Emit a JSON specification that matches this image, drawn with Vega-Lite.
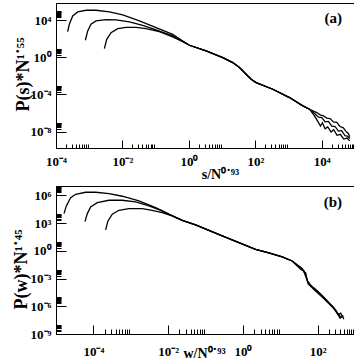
{
  "$schema": "https://vega.github.io/schema/vega-lite/v6.json",
  "background": "white",
  "padding": {"left": 11, "top": 2, "right": 1, "bottom": 5},
  "bounds": "flush",
  "spacing": 38,
  "config": {
    "view": {"stroke": "#000", "strokeWidth": 1},
    "axis": {
      "grid": false, "domainColor": "#000", "tickColor": "#000", "labelColor": "#000", "titleColor": "#000",
      "labelFont": "Liberation Serif", "labelFontWeight": "bold", "labelFontSize": 13,
      "titleFont": "Liberation Serif", "titleFontWeight": "bold",
      "labelOverlap": false, "labelFlush": false, "tickWidth": 1
    },
    "title": {"font": "Liberation Serif", "fontWeight": "bold", "fontSize": 15, "color": "#000"}
  },
  "vconcat": [
    {
      "width": 299, "height": 145,
      "title": {"text": "(a)", "anchor": "end", "frame": "group", "orient": "top", "offset": 0, "baseline": "alphabetic", "dy": 35, "dx": -13},
      "data": {"values": [
        {"n":1,"x":2.24e-4,"y":601},{"n":1,"x":2.52e-4,"y":3707},{"n":1,"x":3.18e-4,"y":29300},{"n":1,"x":4.5e-4,"y":79100},{"n":1,"x":8.02e-4,"y":120000},{"n":1,"x":1.6e-3,"y":120000},{"n":1,"x":4.04e-3,"y":79100},{"n":1,"x":1.02e-2,"y":37600},{"n":1,"x":3.24e-2,"y":8470},{"n":1,"x":0.103,"y":1620},{"n":1,"x":0.327,"y":310},{"n":1,"x":0.653,"y":58.9},
        {"n":1,"x":1.038,"y":20.2},{"n":1,"x":3.296,"y":4.955},{"n":1,"x":10.47,"y":0.948},{"n":1,"x":20.94,"y":0.274},{"n":1,"x":33.27,"y":0.0793},{"n":1,"x":52.84,"y":0.0152},{"n":1,"x":74.65,"y":0.00439},{"n":1,"x":105.7,"y":0.00192},{"n":1,"x":335.7,"y":0.000367},{"n":1,"x":1067,"y":4.65e-5},{"n":1,"x":2692,"y":5.87e-6},{"n":1,"x":4276,"y":2.57e-6},
        {"n":1,"x":7079,"y":1.122e-6},{"n":1,"x":8913,"y":6.31e-7},{"n":1,"x":11220,"y":5.01e-7},{"n":1,"x":14130,"y":2.82e-7},{"n":1,"x":17780,"y":2.51e-7},{"n":1,"x":22390,"y":1.122e-7},{"n":1,"x":28180,"y":1e-7},{"n":1,"x":35480,"y":3.55e-8},{"n":1,"x":44670,"y":2.51e-8},{"n":1,"x":52480,"y":1.122e-8},{"n":1,"x":63100,"y":6.31e-9},{"n":1,"x":69180,"y":2.82e-9},
        {"n":2,"x":7.66e-4,"y":70},{"n":2,"x":9.0e-4,"y":710},{"n":2,"x":1.13e-3,"y":3707},{"n":2,"x":1.6e-3,"y":8470},{"n":2,"x":3.21e-3,"y":11800},{"n":2,"x":6.41e-3,"y":10900},{"n":2,"x":1.62e-2,"y":6610},{"n":2,"x":4.07e-2,"y":2890},{"n":2,"x":0.103,"y":908},{"n":2,"x":0.327,"y":205},{"n":2,"x":0.653,"y":53.7},
        {"n":2,"x":1.038,"y":20.2},{"n":2,"x":3.296,"y":4.955},{"n":2,"x":10.47,"y":0.948},{"n":2,"x":20.94,"y":0.274},{"n":2,"x":33.27,"y":0.0793},{"n":2,"x":52.84,"y":0.0152},{"n":2,"x":74.65,"y":0.00439},{"n":2,"x":105.7,"y":0.00192},{"n":2,"x":335.7,"y":0.000367},{"n":2,"x":1067,"y":4.65e-5},{"n":2,"x":2692,"y":5.87e-6},{"n":2,"x":4276,"y":2.57e-6},
        {"n":2,"x":6310,"y":7.94e-7},{"n":2,"x":7943,"y":3.55e-7},{"n":2,"x":10000,"y":3.16e-7},{"n":2,"x":12590,"y":1.122e-7},{"n":2,"x":15850,"y":1.259e-7},{"n":2,"x":19950,"y":3.98e-8},{"n":2,"x":25120,"y":3.55e-8},{"n":2,"x":31620,"y":1.122e-8},{"n":2,"x":39810,"y":1.259e-8},{"n":2,"x":50120,"y":3.55e-9},{"n":2,"x":60260,"y":3.16e-9},{"n":2,"x":69180,"y":1.78e-9},
        {"n":3,"x":2.86e-3,"y":8.85},{"n":3,"x":3.36e-3,"y":89.7},{"n":3,"x":4.54e-3,"y":469},{"n":3,"x":7.19e-3,"y":1265},{"n":3,"x":1.28e-2,"y":1762},{"n":3,"x":2.57e-2,"y":1762},{"n":3,"x":5.14e-2,"y":1265},{"n":3,"x":0.129,"y":601},{"n":3,"x":0.327,"y":160},{"n":3,"x":0.653,"y":50.2},
        {"n":3,"x":1.038,"y":20.2},{"n":3,"x":3.296,"y":4.955},{"n":3,"x":10.47,"y":0.948},{"n":3,"x":20.94,"y":0.274},{"n":3,"x":33.27,"y":0.0793},{"n":3,"x":52.84,"y":0.0152},{"n":3,"x":74.65,"y":0.00439},{"n":3,"x":105.7,"y":0.00192},{"n":3,"x":335.7,"y":0.000367},{"n":3,"x":1067,"y":4.65e-5},{"n":3,"x":2692,"y":5.87e-6},{"n":3,"x":4276,"y":2.57e-6},
        {"n":3,"x":6026,"y":5.01e-7},{"n":3,"x":7586,"y":1.259e-7},{"n":3,"x":9120,"y":3.98e-8},{"n":3,"x":10470,"y":8.91e-8},{"n":3,"x":12590,"y":2.0e-8},{"n":3,"x":15140,"y":3.16e-8},{"n":3,"x":19050,"y":8.91e-9},{"n":3,"x":22910,"y":1.585e-8},{"n":3,"x":28840,"y":3.98e-9},{"n":3,"x":36310,"y":5.01e-9},{"n":3,"x":45710,"y":1.585e-9},{"n":3,"x":57540,"y":2.0e-9},{"n":3,"x":69180,"y":1e-9}
      ]},
      "mark": {"type": "line", "color": "#000", "strokeWidth": 1.3, "clip": true},
      "encoding": {
        "x": {"field": "x", "type": "quantitative",
          "scale": {"type": "log", "domain": [1e-4, 1e5], "nice": false},
          "axis": {
            "values": [0.0001,0.0002,0.0003,0.0004,0.0005,0.0006,0.0007,0.0008,0.0009,0.01,0.02,0.03,0.04,0.05,0.06,0.07,0.08,0.09,1,2,3,4,5,6,7,8,9,100,200,300,400,500,600,700,800,900,10000,20000,30000,40000,50000,60000,70000,80000,90000],
            "labelExpr": "abs(log(datum.value)/LN10 - round(log(datum.value)/LN10)) < 0.001 ? '10' + (datum.value < 1 ? '⁻' : '') + ['⁰','¹','²','³','⁴','⁵','⁶','⁷','⁸','⁹'][abs(round(log(datum.value)/LN10))] : ''",
            "tickSize": {"condition": {"test": "abs(log(datum.value)/LN10 - round(log(datum.value)/LN10)) < 0.001", "value": -8}, "value": -4},
            "labelPadding": 15,
            "title": "s/N⁰˙⁹³", "titleFontSize": 14, "titleX": 164, "titleY": 30, "titleBaseline": "alphabetic"
          }
        },
        "y": {"field": "y", "type": "quantitative",
          "scale": {"type": "log", "domain": [1.7e-10, 7.3e5], "nice": false},
          "axis": {
            "values": [1e-8,2e-8,3e-8,4e-8,5e-8,6e-8,7e-8,8e-8,9e-8,0.0001,0.0002,0.0003,0.0004,0.0005,0.0006,0.0007,0.0008,0.0009,1,2,3,4,5,6,7,8,9,10000,20000,30000,40000,50000,60000,70000,80000,90000],
            "labelExpr": "abs(log(datum.value)/LN10 - round(log(datum.value)/LN10)) < 0.001 ? '10' + (datum.value < 1 ? '⁻' : '') + ['⁰','¹','²','³','⁴','⁵','⁶','⁷','⁸','⁹'][abs(round(log(datum.value)/LN10))] : ''",
            "tickSize": {"condition": {"test": "abs(log(datum.value)/LN10 - round(log(datum.value)/LN10)) < 0.001", "value": -10}, "value": -5},
            "labelPadding": 15,
            "title": "P(s)*N¹˙⁵⁵", "titleFontSize": 18, "titleX": -33, "titleY": 71, "titleBaseline": "middle", "titleAngle": -90
          }
        },
        "detail": {"field": "n"}
      }
    },
    {
      "width": 299, "height": 148,
      "title": {"text": "(b)", "anchor": "end", "frame": "group", "orient": "top", "offset": 0, "baseline": "alphabetic", "dy": 42, "dx": -13},
      "data": {"values": [
        {"n":1,"x":1.637e-5,"y":10400},{"n":1,"x":1.888e-5,"y":70150},{"n":1,"x":2.466e-5,"y":558500},{"n":1,"x":3.357e-5,"y":1282000},{"n":1,"x":6.209e-5,"y":2113000},{"n":1,"x":1.151e-4,"y":2113000},{"n":1,"x":2.612e-4,"y":1514000},{"n":1,"x":5.943e-4,"y":779800},{"n":1,"x":1.656e-3,"y":243800},{"n":1,"x":4.624e-3,"y":46240},{"n":1,"x":1.05e-2,"y":9120},
        {"n":1,"x":0.02388,"y":1968},{"n":1,"x":0.0542,"y":615.2},{"n":1,"x":0.1233,"y":162.9},{"n":1,"x":0.2799,"y":39.72},{"n":1,"x":0.7816,"y":7.534},{"n":1,"x":2.183,"y":1.432},{"n":1,"x":4.955,"y":0.5741},{"n":1,"x":11.27,"y":0.2118},{"n":1,"x":20.84,"y":0.0782},
        {"n":1,"x":25.12,"y":0.0447},{"n":1,"x":31.41,"y":0.02249},{"n":1,"x":35.48,"y":0.01585},{"n":1,"x":39.81,"y":0.01},{"n":1,"x":42.76,"y":0.005483},{"n":1,"x":47.86,"y":0.00398},{"n":1,"x":52.48,"y":0.000631},{"n":1,"x":63.1,"y":0.0002},{"n":1,"x":89.1,"y":6.31e-5},{"n":1,"x":125.9,"y":1.78e-5},{"n":1,"x":199.5,"y":2.51e-6},{"n":1,"x":281.8,"y":5.62e-7},{"n":1,"x":354.8,"y":1.26e-7},{"n":1,"x":416.9,"y":1.78e-7},{"n":1,"x":457.1,"y":7.94e-8},
        {"n":2,"x":5.957e-5,"y":1413},{"n":2,"x":6.887e-5,"y":10400},{"n":2,"x":8.453e-5,"y":54580},{"n":2,"x":1.274e-4,"y":160700},{"n":2,"x":2.612e-4,"y":287700},{"n":2,"x":5.943e-4,"y":287700},{"n":2,"x":1.349e-3,"y":189700},{"n":2,"x":3.069e-3,"y":70150},{"n":2,"x":6.966e-3,"y":20140},{"n":2,"x":1.05e-2,"y":8710},
        {"n":2,"x":0.02388,"y":1968},{"n":2,"x":0.0542,"y":615.2},{"n":2,"x":0.1233,"y":162.9},{"n":2,"x":0.2799,"y":39.72},{"n":2,"x":0.7816,"y":7.534},{"n":2,"x":2.183,"y":1.432},{"n":2,"x":4.955,"y":0.5741},{"n":2,"x":11.27,"y":0.2118},{"n":2,"x":20.84,"y":0.0782},
        {"n":2,"x":28.18,"y":0.0282},{"n":2,"x":31.41,"y":0.02249},{"n":2,"x":38.02,"y":0.0112},{"n":2,"x":42.76,"y":0.005483},{"n":2,"x":45.71,"y":0.00282},{"n":2,"x":49.32,"y":0.001227},{"n":2,"x":51.29,"y":0.001},{"n":2,"x":55.85,"y":0.0002754},{"n":2,"x":57.54,"y":0.000355},{"n":2,"x":71.45,"y":0.0001199},{"n":2,"x":79.43,"y":8.91e-5},{"n":2,"x":107.7,"y":2.924e-5},{"n":2,"x":131.8,"y":1.26e-5},{"n":2,"x":162.2,"y":5.559e-6},{"n":2,"x":223.9,"y":1.41e-6},{"n":2,"x":244.9,"y":1.054e-6},{"n":2,"x":316.2,"y":3.16e-7},{"n":2,"x":332.7,"y":2.004e-7},{"n":2,"x":380.2,"y":1.12e-7},{"n":2,"x":408.3,"y":6.808e-8},{"n":2,"x":436.5,"y":5.62e-8},
        {"n":3,"x":2.128e-4,"y":177},{"n":3,"x":2.455e-4,"y":1667},{"n":3,"x":3.206e-4,"y":8790},{"n":3,"x":4.831e-4,"y":23820},{"n":3,"x":8.954e-4,"y":36060},{"n":3,"x":2.032e-3,"y":36060},{"n":3,"x":3.767e-3,"y":23820},{"n":3,"x":6.966e-3,"y":13300},{"n":3,"x":1.164e-2,"y":6839},
        {"n":3,"x":0.02388,"y":1968},{"n":3,"x":0.0542,"y":615.2},{"n":3,"x":0.1233,"y":162.9},{"n":3,"x":0.2799,"y":39.72},{"n":3,"x":0.7816,"y":7.534},{"n":3,"x":2.183,"y":1.432},{"n":3,"x":4.955,"y":0.5741},{"n":3,"x":11.27,"y":0.2118},{"n":3,"x":20.84,"y":0.0782},
        {"n":3,"x":29.51,"y":0.01995},{"n":3,"x":36.31,"y":0.00891},{"n":3,"x":43.65,"y":0.00631},{"n":3,"x":48.98,"y":0.00178},{"n":3,"x":53.7,"y":0.000501},{"n":3,"x":60.26,"y":0.000191},{"n":3,"x":85.11,"y":5.01e-5},{"n":3,"x":141.3,"y":7.94e-6},{"n":3,"x":251.2,"y":7.94e-7},{"n":3,"x":338.8,"y":1.58e-7},{"n":3,"x":398.1,"y":5.01e-8},{"n":3,"x":467.7,"y":8.91e-8},{"n":3,"x":501,"y":3.98e-8}
      ]},
      "mark": {"type": "line", "color": "#000", "strokeWidth": 1.3, "clip": true},
      "encoding": {
        "x": {"field": "x", "type": "quantitative",
          "scale": {"type": "log", "domain": [1e-5, 1e3], "nice": false},
          "axis": {
            "values": [0.0001,0.0002,0.0003,0.0004,0.0005,0.0006,0.0007,0.0008,0.0009,0.01,0.02,0.03,0.04,0.05,0.06,0.07,0.08,0.09,1,2,3,4,5,6,7,8,9,100,200,300,400,500,600,700,800,900],
            "labelExpr": "abs(log(datum.value)/LN10 - round(log(datum.value)/LN10)) < 0.001 ? '10' + (datum.value < 1 ? '⁻' : '') + ['⁰','¹','²','³','⁴','⁵','⁶','⁷','⁸','⁹'][abs(round(log(datum.value)/LN10))] : ''",
            "tickSize": {"condition": {"test": "abs(log(datum.value)/LN10 - round(log(datum.value)/LN10)) < 0.001", "value": -9}, "value": -5},
            "labelPadding": 20,
            "title": "w/N⁰˙⁹³", "titleFontSize": 14, "titleX": 148, "titleY": 23, "titleBaseline": "alphabetic"
          }
        },
        "y": {"field": "y", "type": "quantitative",
          "scale": {"type": "log", "domain": [1e-9, 1e7], "nice": false},
          "axis": {
            "values": [1e-9,2e-9,3e-9,4e-9,5e-9,6e-9,7e-9,8e-9,9e-9,1e-6,2e-6,3e-6,4e-6,5e-6,6e-6,7e-6,8e-6,9e-6,0.001,0.002,0.003,0.004,0.005,0.006,0.007,0.008,0.009,1,2,3,4,5,6,7,8,9,1000,2000,3000,4000,5000,6000,7000,8000,9000,1000000,2000000,3000000,4000000,5000000,6000000,7000000,8000000,9000000],
            "labelExpr": "abs(log(datum.value)/LN10 - round(log(datum.value)/LN10)) < 0.001 ? '10' + (datum.value < 1 ? '⁻' : '') + ['⁰','¹','²','³','⁴','⁵','⁶','⁷','⁸','⁹'][abs(round(log(datum.value)/LN10))] : ''",
            "tickSize": {"condition": {"test": "abs(log(datum.value)/LN10 - round(log(datum.value)/LN10)) < 0.001", "value": -10}, "value": -5},
            "labelPadding": 15,
            "title": "P(w)*N¹˙⁴⁵", "titleFontSize": 18, "titleX": -35, "titleY": 83, "titleBaseline": "middle", "titleAngle": -90
          }
        },
        "detail": {"field": "n"}
      }
    }
  ]
}
